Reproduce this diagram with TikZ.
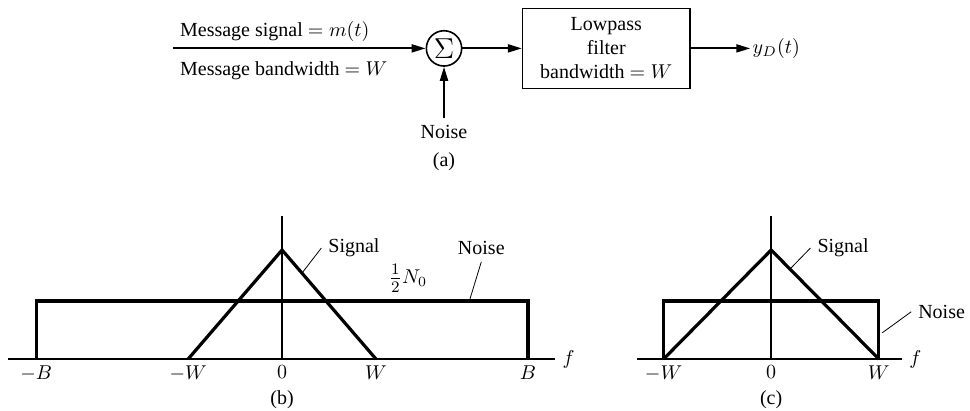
\documentclass[tikz,border=0pt]{standalone}
\usepackage{fontspec}
\setmainfont{Liberation Serif}
\usetikzlibrary{arrows.meta,positioning}

\begin{document}
\begin{tikzpicture}[>={Triangle[length=7pt,width=4pt]},
    sig/.style={line width=1pt},
    axis/.style={line width=0.7pt},
    curve/.style={line width=1.6pt},
    leader/.style={line width=0.4pt},
    sumnode/.style={circle, draw, line width=0.8pt, minimum size=0.62cm, inner sep=0pt},
    block/.style={draw, line width=0.7pt, minimum width=2.94cm, minimum height=1.41cm, align=center}]

    \useasboundingbox (0,0) rectangle (17.04,-7.22);

    % (a) adder and lowpass filter
    \coordinate (in) at (3.04,-0.85);
    \node[sumnode] (sum) at (7.80,-0.85) {\Large$\Sigma$};
    \node[block] (lpf) at (10.65,-0.85) {Lowpass\\filter\\bandwidth $=W$};
    \coordinate (out) at (13.18,-0.85);
    \node[right, inner sep=1pt] (yD) at (out) {$y_D(t)$};
    \node (noise) at (7.80,-2.32) {Noise};
    \node[below=0pt of noise] (capa) {(a)};

    \node[above right] (msg) at (in) {Message signal $=m(t)$};
    \node[below right, yshift=-3pt] (bw) at (in) {Message bandwidth $=W$};

    \draw[sig,->] (in) -- (sum);
    \draw[sig,->] (sum) -- (lpf);
    \draw[sig,->] (lpf) -- (out);
    \draw[sig,->] (noise) -- (sum);

    % (b) spectra before the filter
    \begin{scope}[shift={(4.955,-6.307)}]
        \draw[axis] (-4.81,0) -- (4.80,0) node[right] (fb) {$f$};
        \draw[axis] (0,0) -- (0,2.51);
        \draw[curve] (-4.32,0) |- (4.32,1.02) -- (4.32,0);
        \draw[curve] (-1.65,0) -- (0,1.915) -- (1.65,0);

        \foreach \x/\t [count=\i] in {-4.32/$-B$, -1.65/$-W$, 0/$0$, 1.65/$W$, 4.32/$B$}
            \node[below] (tb\i) at (\x,0) {\t};
        \node (capb) at (0,-0.72) {(b)};

        \node[right] (sigb) at (0.69,1.95) {Signal};
        \node (noiseb) at (3.50,1.95) {Noise};
        \node (levb) at (2.21,1.42) {{\large$\frac{1}{2}$}$N_0$};
        \coordinate (sb) at (0.35,1.51);
        \coordinate (nb) at (3.29,1.02);
        \draw[leader] (sb) -- (sigb.west);
        \draw[leader] (nb) -- (noiseb.south);
    \end{scope}

    % (c) spectra after the filter
    \begin{scope}[shift={(13.547,-6.307)}]
        \draw[axis] (-2.35,0) -- (2.30,0) node[right] (fc) {$f$};
        \draw[axis] (0,0) -- (0,2.51);
        \draw[curve] (-1.89,0) |- (1.89,1.02) -- (1.89,0);
        \draw[curve] (-1.89,0) -- (0,1.915) -- (1.89,0);

        \foreach \x/\t [count=\i] in {-1.89/$-W$, 0/$0$, 1.89/$W$}
            \node[below] (tc\i) at (\x,0) {\t};
        \node (capc) at (0,-0.72) {(c)};

        \node[right] (sigc) at (0.69,1.95) {Signal};
        \node[right] (noisec) at (2.46,0.83) {Noise};
        \coordinate (sc) at (0.33,1.58);
        \coordinate (nc) at (1.95,0.46);
        \draw[leader] (sc) -- (sigc.west);
        \draw[leader] (nc) -- (noisec.west);
    \end{scope}

\end{tikzpicture}
\end{document}
